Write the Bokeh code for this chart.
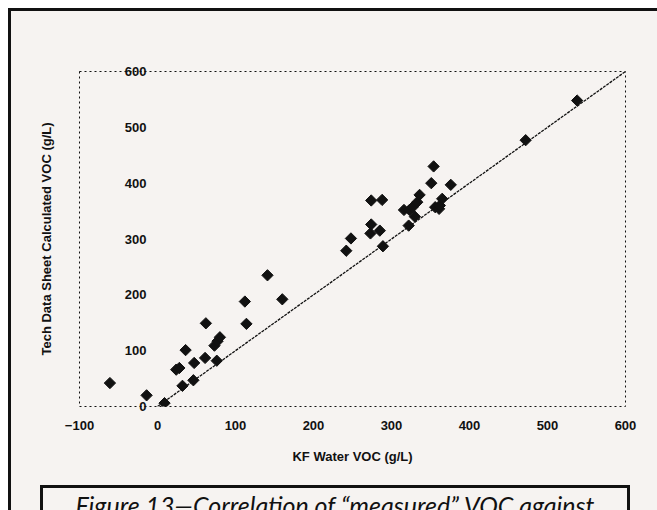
from bokeh.plotting import figure
from bokeh.models import Range1d, FixedTicker, Div
from bokeh.layouts import column
from bokeh.embed import file_html
from bokeh.resources import INLINE
import numpy as np

# KF Water VOC (g/L) vs Tech Data Sheet calculated VOC (g/L)
kf_water = [-61, -14, 9, 32, 46, 36, 24, 28, 47, 61, 62, 76, 73, 77, 80,
            112, 114, 141, 160, 242, 248, 274, 273, 285, 289, 274, 288,
            322, 330, 316, 323, 327, 333, 336, 356, 361, 362, 365, 351,
            376, 354, 472, 538]
tds_calc = [42, 20, 6, 37, 47, 101, 66, 69, 78, 87, 149, 82, 109, 117, 124,
            188, 148, 235, 192, 279, 301, 326, 310, 315, 287, 369, 370,
            324, 340, 352, 352, 357, 366, 379, 357, 354, 360, 372, 400,
            397, 430, 477, 548]

# line of equality
fit_x = [0, 600]
fit_y = [0, 600]

x_ticks = [-100, 0, 100, 200, 300, 400, 500, 600]
y_ticks = [0, 100, 200, 300, 400, 500, 600]

BG = "#f6f3f1"
INK = "#111111"
FONT = "Liberation Sans"

p = figure(width=646, height=474,
           x_range=Range1d(-100, 600), y_range=Range1d(0, 600),
           output_backend="svg", toolbar_location=None,
           min_border_left=68, min_border_right=32,
           min_border_top=60, min_border_bottom=79)
p.background_fill_color = BG
p.border_fill_color = BG
p.grid.visible = False
p.outline_line_color = INK
p.outline_line_width = 1
p.outline_line_dash = "2 3"

p.xaxis.ticker = FixedTicker(ticks=x_ticks)
p.xaxis.axis_line_color = None
p.xaxis.major_tick_out = 0
p.xaxis.major_tick_in = 0
p.xaxis.minor_tick_line_color = None
p.xaxis.major_label_standoff = 14
p.xaxis.major_label_text_font = FONT
p.xaxis.major_label_text_font_style = "bold"
p.xaxis.major_label_text_font_size = "13px"
p.xaxis.major_label_text_color = INK
p.xaxis.axis_label = "KF Water VOC (g/L)"
p.xaxis.axis_label_text_font = FONT
p.xaxis.axis_label_text_font_style = "bold"
p.xaxis.axis_label_text_font_size = "13px"
p.xaxis.axis_label_text_color = INK
p.xaxis.axis_label_standoff = 16

# y tick labels sit inside the frame, as in the original scan
p.yaxis.ticker = FixedTicker(ticks=y_ticks)
p.yaxis.axis_line_color = None
p.yaxis.major_tick_out = 0
p.yaxis.major_tick_in = 0
p.yaxis.minor_tick_line_color = None
p.yaxis.major_label_standoff = -67
p.yaxis.major_label_text_font = FONT
p.yaxis.major_label_text_font_style = "bold"
p.yaxis.major_label_text_font_size = "13px"
p.yaxis.major_label_text_color = INK
p.yaxis.axis_label = "Tech Data Sheet Calculated VOC (g/L)"
p.yaxis.axis_label_text_font = FONT
p.yaxis.axis_label_text_font_style = "bold"
p.yaxis.axis_label_text_font_size = "13px"
p.yaxis.axis_label_text_color = INK
p.yaxis.axis_label_standoff = 68

p.line(fit_x, fit_y, line_color=INK, line_width=1.3, line_dash="3 1")
p.scatter(kf_water, tds_calc, marker="square", angle=np.pi / 4, size=8,
          fill_color=INK, line_color=INK)

caption = Div(
    text='<span style="font-family: Lato, sans-serif; font-style: italic; '
         'font-size: 25px; color: #111; white-space: nowrap;">'
         'Figure 13\u2014Correlation of \u201cmeasured\u201d VOC against</span>',
    width=590, height=25, margin=(0, 0, 0, 29),
    styles={"border-top": "3px solid #111", "border-left": "3px solid #111",
            "border-right": "3px solid #111", "overflow": "hidden",
            "box-sizing": "border-box", "background": BG,
            "text-align": "center", "padding-top": "2px",
            "line-height": "1.2"})

layout = column(p, caption, spacing=0, margin=(8, 0, 0, 8),
                styles={"border-left": "3px solid #111",
                        "border-top": "3px solid #111",
                        "background": BG})

open("out.html", "w").write(file_html(layout, INLINE))
